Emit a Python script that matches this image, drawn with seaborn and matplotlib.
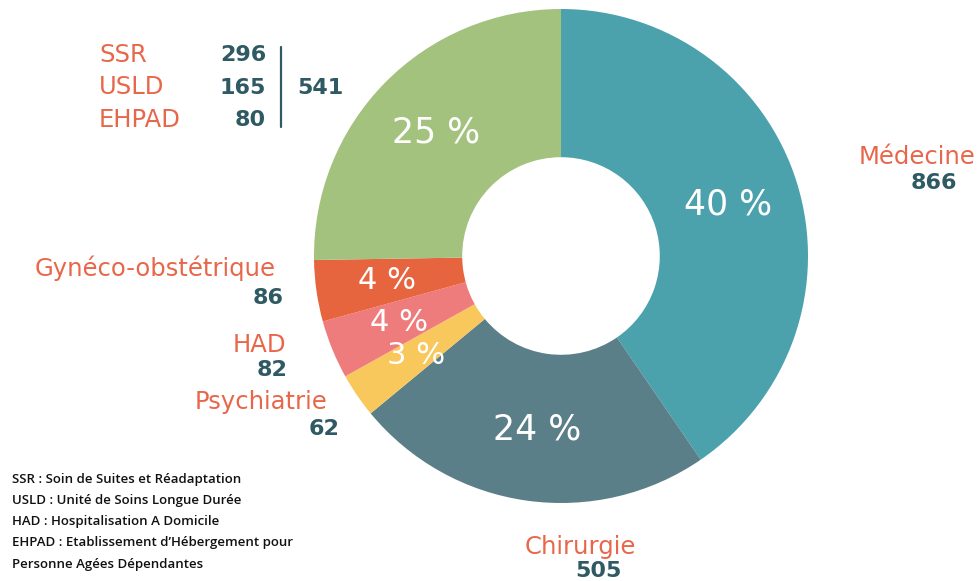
import matplotlib
matplotlib.use("Agg")
import matplotlib.pyplot as plt
import seaborn as sns

categories = ["Médecine", "Chirurgie", "Psychiatrie", "HAD", "Gynéco-obstétrique", "SSR/USLD/EHPAD"]
values = [866, 505, 62, 82, 86, 541]
colors = ["#4BA1AC", "#5B7F88", "#F9C85C", "#EF7C7D", "#E6653F", "#A3C27E"]
group_labels = ["SSR", "USLD", "EHPAD"]
group_values = [296, 165, 80]
footnotes = [
    "SSR : Soin de Suites et Réadaptation",
    "USLD : Unité de Soins Longue Durée",
    "HAD : Hospitalisation A Domicile",
    "EHPAD : Etablissement d\u2019Hébergement pour",
    "Personne Agées Dépendantes",
]

sns.set_theme(style="white")
plt.rcParams["font.family"] = ["DejaVu Sans"]

W, H = 977, 581
fig = plt.figure(figsize=(W / 100, H / 100), dpi=100)
fig.patch.set_facecolor("white")

cx, cy, R = 561, 256, 247
ax = fig.add_axes([(cx - R) / W, 1 - (cy + R) / H, 2 * R / W, 2 * R / H])
total = sum(values)
wedges, texts, autotexts = ax.pie(
    values, colors=colors, startangle=90, counterclock=False,
    radius=1.0, wedgeprops=dict(width=0.6, linewidth=0),
    autopct=lambda p: f"{p:.0f} %", pctdistance=0.71,
    textprops=dict(color="white", fontsize=25),
)
for i, t in enumerate(autotexts):
    if values[i] / total < 0.06:
        t.set_fontsize(22)
ax.set_xlim(-1, 1)
ax.set_ylim(-1, 1)
ax.set_aspect("equal")
ax.axis("off")

orange = "#E8674A"
dark = "#2F5A64"

def px(x, y):
    return x / W, 1 - y / H

def label(x, y, txt, ha="left"):
    fig.text(*px(x, y), txt, color=orange, fontsize=17.5, ha=ha, va="center")

def num(x, y, v, ha="right"):
    fig.text(*px(x, y), f"{v}", color=dark, fontsize=16, fontweight="bold", ha=ha, va="center")

label(975, 157, categories[0], ha="right")
num(957, 183, values[0])
label(636, 547, categories[1], ha="right")
num(622, 571, values[1])
label(327, 402, categories[2], ha="right")
num(339, 429, values[2])
label(286, 345, categories[3], ha="right")
num(288, 370, values[3])
label(276, 268, categories[4], ha="right")
num(284, 298, values[4])

for i, (g, v) in enumerate(zip(group_labels, group_values)):
    y = 55 + i * 32.5
    label(99, y, g)
    num(266, y, v)
fig.add_artist(plt.Line2D([281 / W, 281 / W], [1 - 47 / H, 1 - 127 / H], color=dark, lw=1.6))
num(297, 88, values[5], ha="left")

for i, f in enumerate(footnotes):
    fig.text(*px(12, 479 + i * 21.3), f, color="#111111", fontsize=9.5,
             fontweight="semibold", family=["Open Sans", "DejaVu Sans"], ha="left", va="center")

fig.savefig("out.png", dpi=100, facecolor="white")
